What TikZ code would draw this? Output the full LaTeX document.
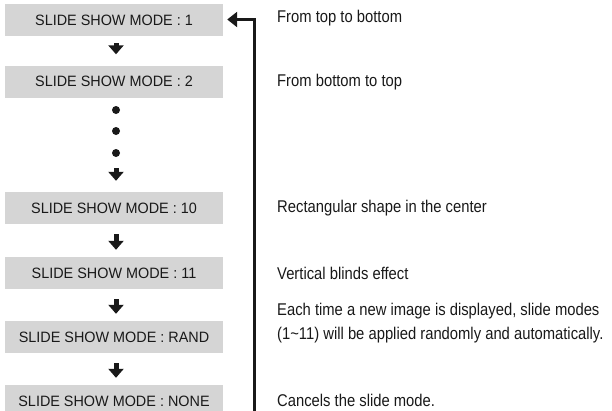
\documentclass[tikz,border=0pt]{standalone}
\usepackage{fontspec}
\setmainfont{Liberation Sans}
\newfontfamily\boxfont[FakeStretch=0.96]{Liberation Sans}
\newfontfamily\descfont[FakeStretch=0.87]{Liberation Sans}
\usetikzlibrary{arrows.meta}
\definecolor{boxgray}{RGB}{213,213,213}
\definecolor{ink}{RGB}{25,25,25}
\begin{document}
\begin{tikzpicture}[x=1pt,y=-1pt,
  modebox/.style={fill=boxgray, minimum width=218pt, minimum height=32pt, inner sep=0pt,
    font=\boxfont\fontsize{15}{18}\selectfont, text=ink},
  desc/.style={anchor=base west, inner sep=0pt, font=\descfont\fontsize{17}{24}\selectfont,
    align=left, text=ink},
  dnarrow/.style={draw=ink, line width=5pt, -{Triangle[width=15pt,length=9pt]}},
  ret/.style={draw=ink, line width=3.5pt, line join=miter, -{Triangle[width=15pt,length=10pt]}},
  dot/.style={circle, fill=ink, inner sep=0pt, minimum size=8pt}]
\useasboundingbox (0,0) rectangle (612,410);
\clip (0,0) rectangle (612,410);
% mode boxes
\node[modebox] (b1)   at (114,20)    {SLIDE SHOW MODE : 1};
\node[modebox] (b2)   at (114,81.5)  {SLIDE SHOW MODE : 2};
\node[modebox] (b10)  at (114,208)   {SLIDE SHOW MODE : 10};
\node[modebox] (b11)  at (114,273)   {SLIDE SHOW MODE : 11};
\node[modebox] (brand) at (114,337)  {SLIDE SHOW MODE : RAND};
\node[modebox] (bnone) at (114,401)  {SLIDE SHOW MODE : NONE};
% dots
\node[dot] (d1) at (116,110) {};
\node[dot] (d2) at (116,131) {};
\node[dot] (d3) at (116,153) {};
% small down arrows
\draw[dnarrow, shorten <=7pt, shorten >=11pt] ([xshift=2pt]b1.south) -- ([xshift=2pt]b2.north);
\draw[dnarrow, shorten <=11pt, shorten >=11pt] (d3) -- ([xshift=2pt]b10.north);
\draw[dnarrow, shorten <=10pt, shorten >=7pt] ([xshift=2pt]b10.south) -- ([xshift=2pt]b11.north);
\draw[dnarrow, shorten <=10pt, shorten >=7pt] ([xshift=2pt]b11.south) -- ([xshift=2pt]brand.north);
\draw[dnarrow, shorten <=10pt, shorten >=7pt] ([xshift=2pt]brand.south) -- ([xshift=2pt]bnone.north);
% return arrow
\coordinate (retstart) at (254.5,415);
\draw[ret, shorten >=4pt] (retstart) |- ([yshift=0.5pt]b1.east);
% descriptions
\node[desc] (t1) at (277,22.7)  {From top to bottom};
\node[desc] (t2) at (277,86.7)  {From bottom to top};
\node[desc] (t3) at (277,212.7) {Rectangular shape in the center};
\node[desc] (t4) at (277,279)   {Vertical blinds effect};
\node[desc] (t5) at (277,339)   {Each time a new image is displayed, slide modes\\(1\textasciitilde 11) will be applied randomly and automatically.};
\node[desc] (t6) at (277,406.7) {Cancels the slide mode.};
\end{tikzpicture}
\end{document}
